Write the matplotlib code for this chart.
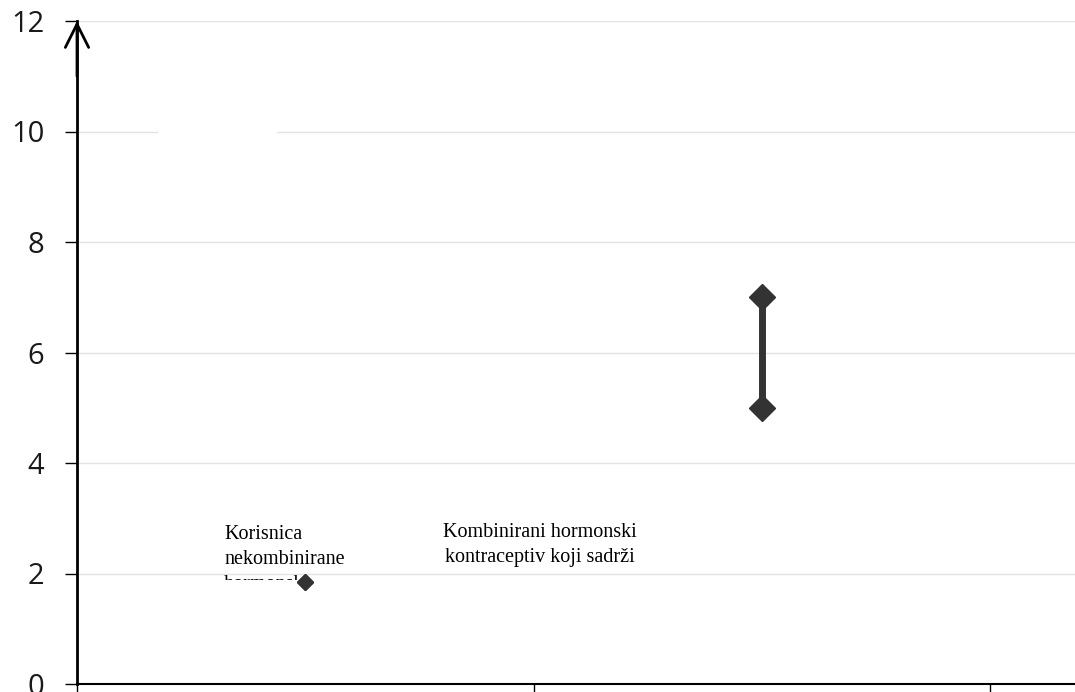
import matplotlib.pyplot as plt
from matplotlib.transforms import Bbox, TransformedBbox
from matplotlib.patches import Rectangle

categories = ["Korisnica\nnekombinirane\nhormonske", "Kombinirani hormonski\nkontraceptiv koji sadrži"]
low_values = [1.85, 5.0]
high_values = [1.85, 7.0]
y_ticks = [0, 2, 4, 6, 8, 10, 12]

fig = plt.figure(figsize=(10.75, 6.92), dpi=100)
ax = fig.add_axes([77 / 1075, 8 / 692, 998 / 1075, 663 / 692])

ax.set_xlim(0, 998 / 456.5)
ax.set_ylim(0, 12)

for y in y_ticks[1:]:
    ax.axhline(y, color="#e3e3e3", lw=1, zorder=0)
# blank patch over the 10 gridline
ax.add_patch(Rectangle((81 / 456.5, 9.9), 119 / 456.5, 0.2, color="white", zorder=0.5, lw=0))

xs = [i + 0.5 for i in range(len(categories))]
for x, lo, hi in zip(xs, low_values, high_values):
    ax.plot([x, x], [lo, hi], color="#333333", lw=5, solid_capstyle="butt", zorder=3)
    ax.plot([x, x], [lo, hi], linestyle="none", marker="D", color="#333333",
            markersize=13 if hi > lo else 8, zorder=4)

# category labels; the first one is cut off like the original
t1 = ax.text(147 / 456.5, 2.88, categories[0], family="Liberation Serif", fontsize=14.5,
             ha="left", va="top", linespacing=1.45, zorder=2)
t1.set_clip_box(TransformedBbox(Bbox([[0, 1.88], [1, 3.2]]), ax.transData))
t1.set_clip_on(True)
ax.text(463 / 456.5, 2.92, categories[1], family="Liberation Serif", fontsize=14.5,
        ha="center", va="top", linespacing=1.45, zorder=2)

ax.set_yticks(y_ticks)
ax.set_yticklabels([str(v) for v in y_ticks], fontsize=21, family="Open Sans", color="#1a1a1a")
ax.tick_params(axis="y", length=8.6, width=1, pad=15, color="black")
ax.set_xticks([0, 1, 2])
ax.set_xticklabels([])
ax.tick_params(axis="x", length=5.8, width=1, color="black")

for side in ["top", "right"]:
    ax.spines[side].set_visible(False)
ax.spines["bottom"].set_linewidth(1.5)
ax.spines["left"].set_linewidth(2)

ax.annotate("", xy=(0, 12), xytext=(0, 11), xycoords="data",
            arrowprops=dict(arrowstyle="->", lw=2, color="black", mutation_scale=42,
                            shrinkA=0, shrinkB=0), annotation_clip=False)

fig.savefig("out.png", dpi=100)
